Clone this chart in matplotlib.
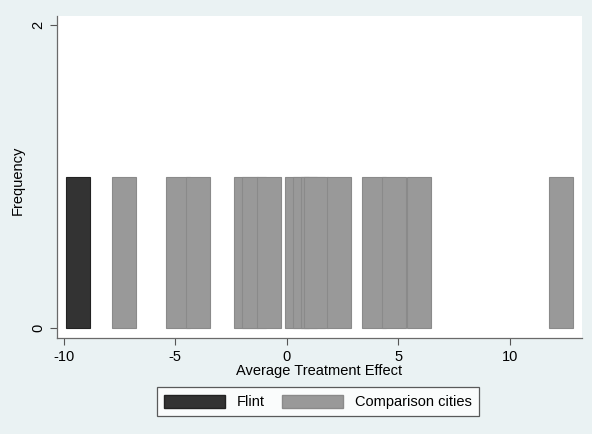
import matplotlib
matplotlib.use("Agg")
import matplotlib.pyplot as plt
from matplotlib.patches import Patch

plt.rcParams["font.family"] = ["Liberation Sans", "DejaVu Sans"]
plt.rcParams["axes.unicode_minus"] = False

# average treatment effects (bin centres), one count each
flint_effects = [-9.38]
comparison_effects = [-7.30, -4.90, -3.97, -1.82, -1.46, -0.78, 0.46, 0.81,
                      1.18, 1.30, 2.36, 3.91, 4.80, 5.93, 12.32]
bin_width = 1.07
x_ticks = [-10, -5, 0, 5, 10]
y_ticks = [0, 2]

bg = "#eaf2f3"
fig = plt.figure(figsize=(5.92, 4.34), dpi=100, facecolor=bg)
ax = fig.add_axes([0.0963, 0.2212, 0.887, 0.742])
ax.set_facecolor("white")

ax.bar(comparison_effects, [1] * len(comparison_effects), width=bin_width,
       color="#999999", edgecolor="#8a8a8a", linewidth=0.8, zorder=2)
ax.bar(flint_effects, [1] * len(flint_effects), width=bin_width,
       color="#333333", edgecolor="#222222", linewidth=0.8, zorder=3)

ax.set_xlim(-10.31, 13.25)
ax.set_ylim(-0.066, 2.06)
ax.set_xticks(x_ticks)
ax.set_yticks(y_ticks)
ax.set_yticklabels([str(t) for t in y_ticks], rotation=90, va="center")
ax.tick_params(axis="both", labelsize=10.5, color="#555555", length=5, width=0.8)
for side in ["top", "right"]:
    ax.spines[side].set_visible(False)
for side in ["left", "bottom"]:
    ax.spines[side].set_color("#6a6a6a")
    ax.spines[side].set_linewidth(0.9)

ax.set_xlabel("Average Treatment Effect", fontsize=10.5, labelpad=0)
ax.set_ylabel("Frequency", fontsize=10.5, va="center")
ax.yaxis.set_label_coords(-0.074, 0.49)

handles = [Patch(facecolor="#333333", edgecolor="#222222", label="Flint"),
           Patch(facecolor="#999999", edgecolor="#8a8a8a", label="Comparison cities")]
leg = fig.legend(handles=handles, loc="center", bbox_to_anchor=(0.537, 0.074), ncol=2,
                 fontsize=10.5, frameon=True, fancybox=False, handlelength=4.2,
                 handleheight=1.0, columnspacing=1.2, borderpad=0.5)
leg.get_frame().set_edgecolor("#333333")
leg.get_frame().set_linewidth(0.9)

fig.savefig("out.png", dpi=100, facecolor=bg)
